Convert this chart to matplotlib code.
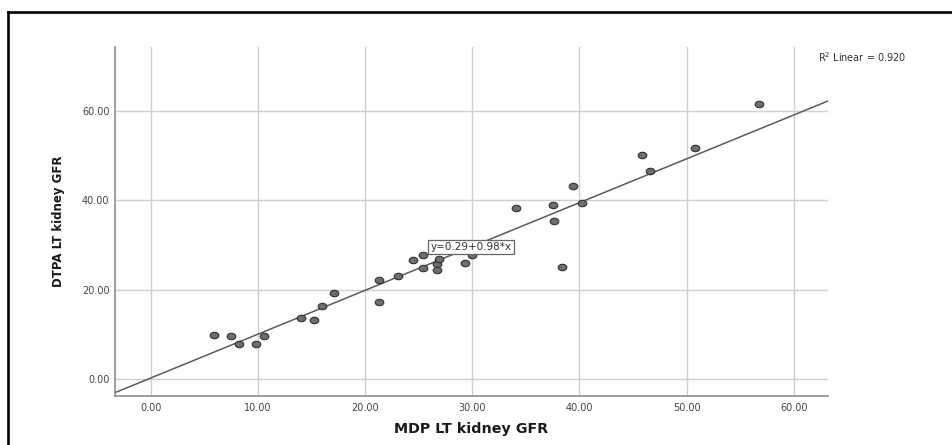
import matplotlib.pyplot as plt
from matplotlib.path import Path
from matplotlib.transforms import Affine2D
from matplotlib.lines import Line2D
import numpy as np

# data
mdp_gfr = [5.9, 7.5, 8.2, 9.8, 10.6, 14.0, 15.2, 16.0, 17.1, 21.3, 21.3, 23.1,
           24.5, 25.4, 25.4, 26.7, 26.7, 26.9, 29.3, 30.0, 34.1, 37.5, 37.6,
           38.4, 39.4, 40.2, 45.8, 46.6, 50.8, 56.8]
dtpa_gfr = [9.9, 9.6, 7.9, 8.0, 9.7, 13.6, 13.2, 16.3, 19.3, 22.1, 17.3, 23.0,
            26.7, 27.9, 24.9, 25.8, 24.4, 27.0, 25.9, 27.9, 38.4, 39.0, 35.5,
            25.0, 43.3, 39.5, 50.1, 46.6, 51.8, 61.6]
intercept = 0.29
slope = 0.98
r2 = 0.920
x_ticks = [0, 10, 20, 30, 40, 50, 60]
y_ticks = [0, 20, 40, 60]

fig = plt.figure(figsize=(9.53, 4.45), dpi=100)
ax = fig.add_axes([0.1207, 0.1101, 0.7481, 0.7843])

xlim = (-3.34, 63.2)
ylim = (-3.74, 74.3)

# wide-ish dots like the original
ell = Path.unit_circle().transformed(Affine2D().scale(1.0, 0.75))
ax.plot(mdp_gfr, dtpa_gfr, linestyle='none', marker=ell, markersize=6.2,
        markerfacecolor='#6e6e6e', markeredgecolor='#303030',
        markeredgewidth=0.8, zorder=3)

xs = np.array(xlim)
ax.plot(xs, intercept + slope * xs, color='#5a5a5a', lw=1.1, zorder=2)

ax.text(26.1, 29.6, 'y=0.29+0.98*x', fontsize=7.5, color='#333333',
        ha='left', va='center', zorder=4,
        bbox=dict(boxstyle='square,pad=0.2', facecolor='white',
                  edgecolor='#666666', linewidth=0.9))

ax.set_xlim(*xlim)
ax.set_ylim(*ylim)
ax.set_xticks(x_ticks)
ax.set_yticks(y_ticks)
ax.set_xticklabels(['%.2f' % v for v in x_ticks])
ax.set_yticklabels(['%.2f' % v for v in y_ticks])
ax.tick_params(length=0, labelsize=7, labelcolor='#444444')
ax.tick_params(axis='x', pad=5)
ax.tick_params(axis='y', pad=4)
ax.grid(True, color='#cfcfcf', lw=1.0)
ax.set_axisbelow(True)

for s in ['top', 'right']:
    ax.spines[s].set_visible(False)
for s in ['left', 'bottom']:
    ax.spines[s].set_color('#8c8c8c')
    ax.spines[s].set_linewidth(1.2)

ax.set_xlabel('MDP LT kidney GFR', fontsize=10.3, fontweight='bold',
              color='#1a1a1a')
ax.xaxis.set_label_coords(0.5, -0.075)
ax.set_ylabel('DTPA LT kidney GFR', fontsize=8.5, fontweight='bold',
              color='#1a1a1a', va='center', ha='center')
ax.yaxis.set_label_coords(-0.079, 0.5)

fig.text(818 / 953, 1 - 57 / 445, 'R$^2$ Linear = 0.920', fontsize=7,
         color='#333333', ha='left', va='center')

# outer frame (only top and left edges visible)
fig.add_artist(Line2D([0.0089, 0.0089], [0.974, -0.02], color='black',
                      lw=1.9, transform=fig.transFigure))
fig.add_artist(Line2D([0.0089, 1.02], [0.974, 0.974], color='black',
                      lw=1.9, transform=fig.transFigure))

fig.savefig('out.png', dpi=100)
